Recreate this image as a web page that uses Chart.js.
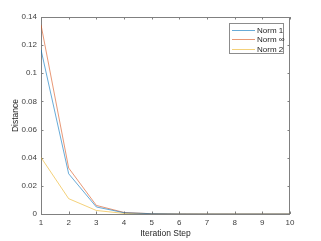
<!DOCTYPE html>
<html>
<head>
<meta charset="utf-8">
<script src="https://cdn.jsdelivr.net/npm/chart.js@4.4.0/dist/chart.umd.min.js"></script>
<style>
  html, body { margin: 0; padding: 0; background: #fff; }
  canvas { display: block; }
</style>
</head>
<body>
<canvas id="conv" width="321" height="241"></canvas>
<script>
// dati
const steps = [1, 2, 3, 4, 5, 6, 7, 8, 9, 10];
const norm1 = [0.1168, 0.0286, 0.0050, 0.0009, 0.0002, 0.00004, 0.00001, 0, 0, 0];
const normInf = [0.1345, 0.0327, 0.0061, 0.0011, 0.0002, 0.00004, 0.00001, 0, 0, 0];
const norm2 = [0.0402, 0.0109, 0.0025, 0.0004, 0.0001, 0.00002, 0, 0, 0, 0];
const seriesNames = ["Norm 1", "Norm \u221E", "Norm 2"];
const seriesColors = ["#0072BD", "#D95319", "#EDB120"];
const yTicks = [0, 0.02, 0.04, 0.06, 0.08, 0.1, 0.12, 0.14];

const FONT = "'Liberation Sans', Arial, sans-serif";
const LW = 0.6;
const toPts = arr => arr.map((v, i) => ({ x: steps[i], y: v }));

// cornice e tacche interne (stile MATLAB)
const boxPlugin = {
  id: "box",
  beforeDatasetsDraw(chart) {
    const { ctx, chartArea: a, scales } = chart;
    ctx.save();
    ctx.strokeStyle = "#808080";
    ctx.lineWidth = 1;
    ctx.strokeRect(a.left + 0.5, a.top + 0.5, a.right - a.left - 1, a.bottom - a.top);
    const t = 2.5;
    ctx.beginPath();
    steps.forEach(s => {
      const x = Math.round(scales.x.getPixelForValue(s)) + 0.5;
      ctx.moveTo(x, a.bottom); ctx.lineTo(x, a.bottom - t);
      ctx.moveTo(x, a.top); ctx.lineTo(x, a.top + t);
    });
    yTicks.forEach(v => {
      const y = Math.round(scales.y.getPixelForValue(v)) + 0.5;
      ctx.moveTo(a.left, y); ctx.lineTo(a.left + t, y);
      ctx.moveTo(a.right, y); ctx.lineTo(a.right - t, y);
    });
    ctx.stroke();
    ctx.restore();
  },
  afterDraw(chart) {
    // legenda dentro l'area del grafico, in alto a destra
    const { ctx, chartArea: a } = chart;
    const w = 55, h = 31;
    const x0 = a.right - 6 - w, y0 = a.top + 6;
    ctx.save();
    ctx.fillStyle = "#fff";
    ctx.fillRect(x0, y0, w, h);
    ctx.strokeStyle = "#8c8c8c";
    ctx.lineWidth = 1;
    ctx.strokeRect(x0 + 0.5, y0 + 0.5, w - 1, h - 1);
    ctx.font = "8px " + FONT;
    ctx.textBaseline = "middle";
    seriesNames.forEach((name, i) => {
      const y = Math.round(y0 + 6.5 + i * 9.8) + 0.5;
      ctx.strokeStyle = seriesColors[i];
      ctx.lineWidth = LW;
      ctx.beginPath();
      ctx.moveTo(x0 + 3, y);
      ctx.lineTo(x0 + 26, y);
      ctx.stroke();
      ctx.fillStyle = "#262626";
      ctx.fillText(name, x0 + 28, y);
    });
    ctx.restore();
  }
};

new Chart(document.getElementById("conv").getContext("2d"), {
  type: "line",
  data: {
    datasets: [norm1, normInf, norm2].map((vals, i) => ({
      label: seriesNames[i],
      data: toPts(vals),
      borderColor: seriesColors[i],
      borderWidth: LW,
      pointRadius: 0,
      fill: false,
      tension: 0,
    })),
  },
  options: {
    responsive: false,
    animation: false,
    devicePixelRatio: 1,
    layout: { padding: { top: 17, right: 31, left: 0, bottom: 0 } },
    plugins: {
      legend: { display: false },
      tooltip: { enabled: false },
    },
    scales: {
      x: {
        type: "linear",
        min: 1,
        max: 10,
        grid: { display: false, drawTicks: false },
        border: { display: false },
        afterFit: s => { s.height = 27; },
        ticks: {
          stepSize: 1,
          padding: 4,
          color: "#404040",
          font: { family: FONT, size: 8 },
          maxRotation: 0,
        },
        title: {
          display: true,
          text: "Iteration Step",
          color: "#262626",
          font: { family: FONT, size: 8.5 },
          padding: { top: 0, bottom: 2 },
        },
      },
      y: {
        min: 0,
        max: 0.14,
        grid: { display: false, drawTicks: false },
        border: { display: false },
        afterFit: s => { s.width = 41; },
        afterBuildTicks: s => { s.ticks = yTicks.map(v => ({ value: v })); },
        ticks: {
          padding: 4,
          color: "#404040",
          font: { family: FONT, size: 8 },
          callback: v => String(+v.toFixed(2)),
        },
        title: {
          display: true,
          text: "Distance",
          color: "#262626",
          font: { family: FONT, size: 8.5 },
          padding: { top: 11, bottom: 0 },
        },
      },
    },
  },
  plugins: [boxPlugin],
});
</script>
</body>
</html>
